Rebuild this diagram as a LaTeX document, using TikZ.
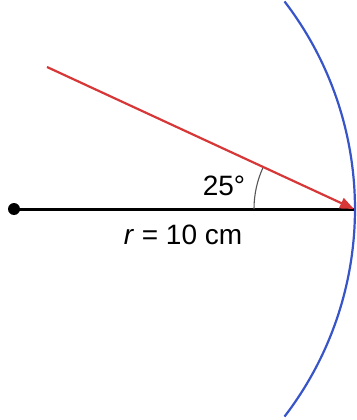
\documentclass[tikz,border=0pt]{standalone}
\usepackage{fontspec}
\setmainfont{Liberation Sans}
\usetikzlibrary{arrows.meta}
\definecolor{rayred}{RGB}{215,55,55}
\definecolor{arcblue}{RGB}{55,85,200}
\definecolor{anggray}{RGB}{85,85,85}
\begin{document}
\begin{tikzpicture}[x=1pt,y=-1pt,
  lbl/.style={font=\fontsize{28}{32}\selectfont, inner sep=0pt},
  dotnode/.style={circle, fill=black, minimum size=12pt, inner sep=0pt}]
\useasboundingbox (0,0) rectangle (356,420);
\node[dotnode] (O) at (14,209) {};
\coordinate (T) at (354,209);
\coordinate (S) at (47,67);
% blue arc centred at the dot
\draw[arcblue, line width=2.2pt] (O) ++(-37.5:341) arc[start angle=-37.5, end angle=37.5, radius=341];
% black radius
\draw[black, line width=3pt] (O.center) -- (T);
% angle arc
\draw[anggray, line width=1.1pt] (T) ++(180:100) arc[start angle=180, end angle=205, radius=100];
% red ray
\draw[rayred, line width=2.2pt, -{Triangle[length=14pt, width=11pt]}] (S) -- (T);
\node[lbl] (ang) at (224,186) {25°};
\node[lbl] (rad) at (183,235) {\textit{r} = 10 cm};
\end{tikzpicture}
\end{document}
